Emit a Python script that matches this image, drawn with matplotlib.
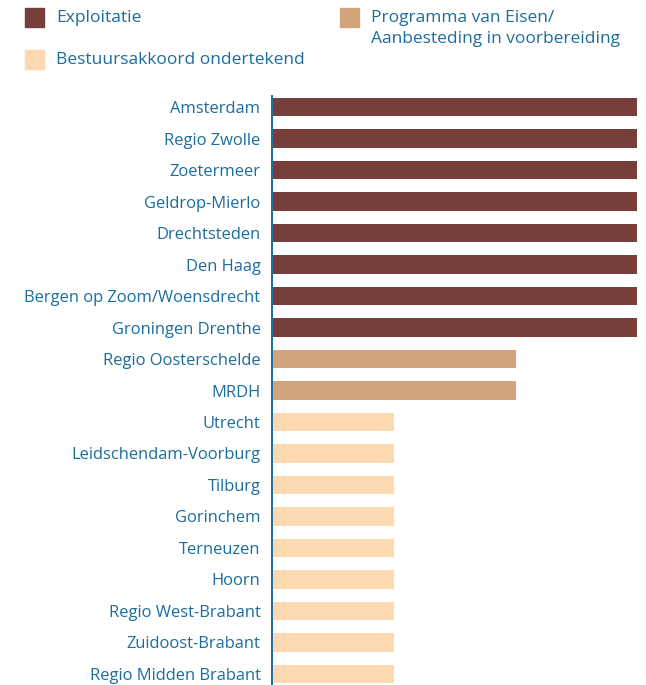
import matplotlib

matplotlib.use("Agg")

import matplotlib.pyplot as plt
from matplotlib.patches import Rectangle

plt.rcParams["font.family"] = ["Open Sans", "DejaVu Sans"]

TEXT_BLUE = "#1b6d9c"

regions = [
    "Amsterdam",
    "Regio Zwolle",
    "Zoetermeer",
    "Geldrop-Mierlo",
    "Drechtsteden",
    "Den Haag",
    "Bergen op Zoom/Woensdrecht",
    "Groningen Drenthe",
    "Regio Oosterschelde",
    "MRDH",
    "Utrecht",
    "Leidschendam-Voorburg",
    "Tilburg",
    "Gorinchem",
    "Terneuzen",
    "Hoorn",
    "Regio West-Brabant",
    "Zuidoost-Brabant",
    "Regio Midden Brabant",
]
# phase reached: 3 = exploitatie, 2 = PvE/aanbesteding, 1 = bestuursakkoord
phase = [3, 3, 3, 3, 3, 3, 3, 3, 2, 2, 1, 1, 1, 1, 1, 1, 1, 1, 1]

phase_labels = {
    3: "Exploitatie",
    2: "Programma van Eisen/\nAanbesteding in voorbereiding",
    1: "Bestuursakkoord ondertekend",
}
phase_colors = {3: "#773f3b", 2: "#d3a57c", 1: "#fdd9b1"}

fig = plt.figure(figsize=(6.46, 6.85), dpi=100)
W, H = 646, 685
ax = fig.add_axes([273 / W, 0, (637 - 273) / W, (685 - 96) / H])

y = list(range(len(regions)))
ax.barh(y, phase, height=0.58, color=[phase_colors[p] for p in phase])

ax.set_xlim(0, 3)
ax.set_ylim(len(regions) - 1 + 0.35, -0.35)
ax.set_yticks(y)
ax.set_yticklabels(regions)
ax.tick_params(axis="y", length=0, pad=8, labelsize=11.9, labelcolor=TEXT_BLUE)
ax.set_xticks([])

for side in ("top", "right", "bottom"):
    ax.spines[side].set_visible(False)
ax.spines["left"].set_color(TEXT_BLUE)
ax.spines["left"].set_linewidth(1.4)
ax.spines["left"].set_position(("outward", 1))

# legend drawn by hand: two columns, multi-line label aligned to its top line
legend_items = [(3, 25, 8), (2, 340, 8), (1, 25, 50)]
for key, px, py in legend_items:
    fig.add_artist(Rectangle((px / W, 1 - (py + 19) / H), 19 / W, 19 / H,
                             transform=fig.transFigure, color=phase_colors[key]))
    lines = phase_labels[key].split("\n")
    for i, line in enumerate(lines):
        fig.text((px + 31) / W, 1 - (py + 10 + 21 * i) / H, line,
                 fontsize=12.5, color=TEXT_BLUE, va="center", ha="left")

fig.savefig("out.png", dpi=100)
